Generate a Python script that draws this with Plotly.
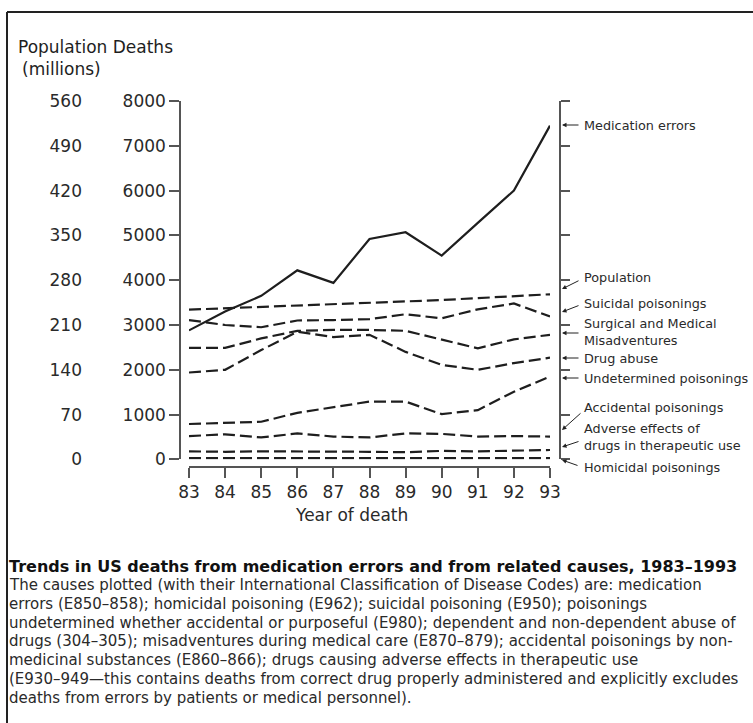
import plotly.graph_objects as go

W, H = 753, 723

# ---- data -------------------------------------------------------------
years = [83, 84, 85, 86, 87, 88, 89, 90, 91, 92, 93]
medication_errors = [2880, 3300, 3650, 4220, 3940, 4920, 5070, 4550, 5280, 6000, 7450]
population_millions = [234, 236, 238, 240, 242, 244, 247, 249, 252, 255, 258]
suicidal_poisonings = [3110, 3000, 2950, 3100, 3110, 3130, 3240, 3150, 3350, 3480, 3190]
surgical_misadventures = [2490, 2490, 2700, 2870, 2890, 2890, 2870, 2680, 2480, 2680, 2780]
drug_abuse = [1940, 2000, 2440, 2850, 2730, 2780, 2400, 2110, 2000, 2150, 2270]
undetermined_poisonings = [790, 820, 840, 1040, 1160, 1290, 1290, 1010, 1100, 1510, 1850]
accidental_poisonings = [520, 560, 490, 580, 510, 490, 580, 570, 510, 520, 510]
adverse_effects = [180, 170, 180, 180, 170, 170, 160, 190, 180, 190, 210]
homicidal_poisonings = [30, 30, 30, 30, 30, 30, 20, 30, 30, 30, 30]

deaths_ticks = [0, 1000, 2000, 3000, 4000, 5000, 6000, 7000, 8000]
population_ticks = [0, 70, 140, 210, 280, 350, 420, 490, 560]

title_text = "Trends in US deaths from medication errors and from related causes, 1983\u20131993"
caption_lines = [
    "The causes plotted (with their International Classification of Disease Codes) are: medication",
    "errors (E850\u2013858); homicidal poisoning (E962); suicidal poisoning (E950); poisonings",
    "undetermined whether accidental or purposeful (E980); dependent and non-dependent abuse of",
    "drugs (304\u2013305); misadventures during medical care (E870\u2013879); accidental poisonings by non-",
    "medicinal substances (E860\u2013866); drugs causing adverse effects in therapeutic use",
    "(E930\u2013949\u2014this contains deaths from correct drug properly administered and explicitly excludes",
    "deaths from errors by patients or medical personnel).",
]

# ---- helpers: pixel -> paper ----------------------------------------------
def px(x):
    return x / W

def py(y):
    return 1 - y / H

INK = "#1e1e1e"
TXT = "#2a2a2a"
AXIS = "#555555"
FONT = "DejaVu Sans, Liberation Sans, Arial, sans-serif"
DASH = "12px,5px"

fig = go.Figure()

dashed_series = [
    suicidal_poisonings,
    surgical_misadventures,
    drug_abuse,
    undetermined_poisonings,
    accidental_poisonings,
    adverse_effects,
    homicidal_poisonings,
]
for vals in dashed_series:
    fig.add_trace(go.Scatter(x=years, y=vals, mode="lines", yaxis="y",
                             line=dict(color=INK, width=2.2, dash=DASH),
                             hoverinfo="skip", showlegend=False))

fig.add_trace(go.Scatter(x=years, y=population_millions, mode="lines", yaxis="y2",
                         line=dict(color=INK, width=2.2, dash=DASH),
                         hoverinfo="skip", showlegend=False))

fig.add_trace(go.Scatter(x=years, y=medication_errors, mode="lines", yaxis="y",
                         line=dict(color=INK, width=2.2),
                         hoverinfo="skip", showlegend=False))

# keeps the right-hand axis attached to a subplot
fig.add_trace(go.Scatter(x=[years[0]], y=[0], mode="markers", yaxis="y3",
                         marker=dict(opacity=0), hoverinfo="skip", showlegend=False))

y_dom = [py(459.4), py(101)]

fig.update_layout(
    width=W, height=H,
    margin=dict(l=0, r=0, t=0, b=0, autoexpand=False),
    paper_bgcolor="white", plot_bgcolor="rgba(0,0,0,0)",
    font=dict(family=FONT, color=INK),
    xaxis=dict(domain=[px(189), px(550)], range=[83, 93], anchor="free", position=py(467),
               tickmode="array", tickvals=years, ticktext=[str(v) for v in years],
               showline=True, linecolor=AXIS, linewidth=1.5,
               ticks="outside", ticklen=10, tickwidth=1.5, tickcolor=AXIS,
               tickfont=dict(size=17, color=TXT),
               showgrid=False, zeroline=False),
    yaxis=dict(domain=y_dom, range=[0, 8000], anchor="free", position=px(180),
               tickmode="array", tickvals=deaths_ticks,
               showline=True, linecolor=AXIS, linewidth=1.5,
               ticks="outside", ticklen=10, tickwidth=1.5, tickcolor=AXIS,
               tickfont=dict(size=17, color=TXT),
               showgrid=False, zeroline=False),
    yaxis2=dict(domain=y_dom, range=[0, 560], overlaying="y", anchor="free", position=px(82),
                tickmode="array", tickvals=population_ticks,
                showline=False, ticks="", tickfont=dict(size=17, color=TXT),
                showgrid=False, zeroline=False),
    yaxis3=dict(domain=y_dom, range=[0, 8000], overlaying="y", anchor="free", side="right",
                position=px(560), tickmode="array", tickvals=deaths_ticks,
                showline=True, linecolor=AXIS, linewidth=1.5,
                ticks="outside", ticklen=9, tickwidth=1.5, tickcolor=AXIS,
                showticklabels=False, showgrid=False, zeroline=False),
)

# frame along the top and left edge
fig.add_shape(type="line", xref="paper", yref="paper", x0=px(7), x1=1, y0=py(12), y1=py(12),
              line=dict(color="#222222", width=2))
fig.add_shape(type="line", xref="paper", yref="paper", x0=px(7), x1=px(7), y0=py(12), y1=0,
              line=dict(color="#222222", width=2))

# axis headings
fig.add_annotation(xref="paper", yref="paper", x=px(16), y=py(47), xanchor="left", yanchor="middle",
                   text="Population Deaths", showarrow=False, font=dict(size=17, color=INK))
fig.add_annotation(xref="paper", yref="paper", x=px(20), y=py(69), xanchor="left", yanchor="middle",
                   text="(millions)", showarrow=False, font=dict(size=17, color=INK))
fig.add_annotation(xref="paper", yref="paper", x=px(351), y=py(515), xanchor="center", yanchor="middle",
                   text="Year of death", showarrow=False, font=dict(size=17, color=TXT))

# series labels on the right with pointers to the axis
labels = [
    ("Medication errors", 125, (580, 125), (562, 125)),
    ("Population", 277, (580, 280), (562, 289)),
    ("Suicidal poisonings", 303, (580, 305), (562, 312)),
    ("Surgical and Medical<br>Misadventures", 332.5, (580, 333), (562, 333)),
    ("Drug abuse", 358, (580, 358), (562, 358)),
    ("Undetermined poisonings", 378, (580, 378), (562, 378)),
    ("Accidental poisonings", 407, (582, 412), (562, 430)),
    ("Adverse effects of<br>drugs in therapeutic use", 436.5, (580, 441), (562, 447)),
    ("Homicidal poisonings", 467, (579, 466), (562, 460)),
]
for text, ly, tail, tip in labels:
    fig.add_annotation(xref="paper", yref="paper", x=px(582), y=py(ly), xanchor="left",
                       yanchor="middle", text=text, showarrow=False, align="left",
                       font=dict(size=12.8, color=TXT))
    fig.add_annotation(xref="paper", yref="paper", x=px(tip[0]), y=py(tip[1]),
                       ax=tail[0] - tip[0], ay=tail[1] - tip[1], axref="pixel", ayref="pixel",
                       text="", showarrow=True, arrowhead=2, arrowsize=0.9, arrowwidth=1,
                       arrowcolor="#222222", standoff=0, startstandoff=0)

# caption
fig.add_annotation(xref="paper", yref="paper", x=px(7), y=py(566), xanchor="left", yanchor="middle",
                   text="<b>" + title_text + "</b>", showarrow=False,
                   font=dict(size=16, color="#111111"))
for i, line in enumerate(caption_lines):
    fig.add_annotation(xref="paper", yref="paper", x=px(7), y=py(585 + i * 18.8), xanchor="left",
                       yanchor="middle", text=line, showarrow=False,
                       font=dict(size=15, color=TXT))

fig.write_html("out.html")
